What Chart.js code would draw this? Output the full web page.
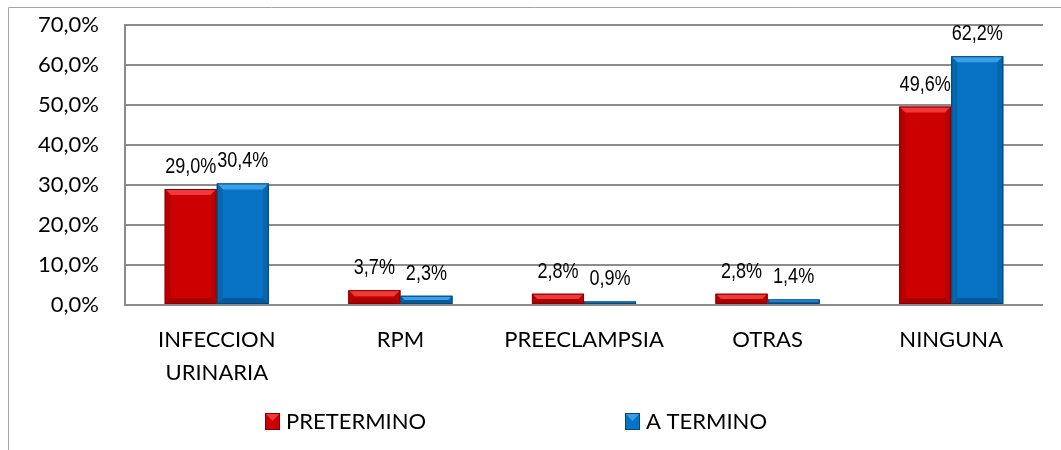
<!DOCTYPE html>
<html>
<head>
<meta charset="utf-8">
<script src="https://cdn.jsdelivr.net/npm/chart.js@4/dist/chart.umd.min.js"></script>
<style>
    html, body { margin: 0; padding: 0; background: #fff; }
    #wrap { position: relative; width: 1061px; height: 450px; }
</style>
</head>
<body>
<div id="wrap"><canvas id="myChart" width="1061" height="450"></canvas></div>
<script>
const categories = [['INFECCION', 'URINARIA'], 'RPM', 'PREECLAMPSIA', 'OTRAS', 'NINGUNA'];
const pretermino = [29.0, 3.7, 2.8, 2.8, 49.6];
const aTermino = [30.4, 2.3, 0.9, 1.4, 62.2];
const seriesNames = ['PRETERMINO', 'A TERMINO'];
const yMax = 70;
const yStep = 10;

const fmt = (v) => v.toFixed(1).replace('.', ',') + '%';
const tickFont = { family: 'Lato, "Open Sans", sans-serif', size: 22 };
// Arial Narrow look: Liberation Sans squeezed horizontally
const labelFont = '22px "Liberation Sans", Arial, sans-serif';
const narrow = 0.82;

// outer frame (left + top only, like the pasted Excel chart)
const framePlugin = {
    id: 'frame',
    beforeDraw(chart) {
        const ctx = chart.ctx;
        ctx.save();
        ctx.strokeStyle = '#a6a6a6';
        ctx.lineWidth = 1;
        ctx.beginPath();
        ctx.moveTo(8.5, chart.height);
        ctx.lineTo(8.5, 7.5);
        ctx.lineTo(chart.width, 7.5);
        ctx.stroke();
        ctx.restore();
    }
};

// bevel look on bars + value labels
const barDecor = {
    id: 'barDecor',
    afterDatasetsDraw(chart) {
        const ctx = chart.ctx;
        ctx.save();
        chart.data.datasets.forEach((ds, di) => {
            const meta = chart.getDatasetMeta(di);
            meta.data.forEach((bar, i) => {
                const { x, y, base, width } = bar.getProps(['x', 'y', 'base', 'width'], true);
                const l = x - width / 2, r = x + width / 2;
                const h = base - y;
                const b = Math.min(6, h / 2);
                // top
                ctx.fillStyle = ds.bevelLight;
                ctx.beginPath();
                ctx.moveTo(l, y); ctx.lineTo(r, y); ctx.lineTo(r - b, y + b); ctx.lineTo(l + b, y + b);
                ctx.closePath(); ctx.fill();
                // bottom
                ctx.fillStyle = ds.bevelDark;
                ctx.beginPath();
                ctx.moveTo(l, base); ctx.lineTo(r, base); ctx.lineTo(r - b, base - b); ctx.lineTo(l + b, base - b);
                ctx.closePath(); ctx.fill();
                // sides
                ctx.fillStyle = ds.bevelSide;
                ctx.beginPath();
                ctx.moveTo(l, y); ctx.lineTo(l + b, y + b); ctx.lineTo(l + b, base - b); ctx.lineTo(l, base);
                ctx.closePath(); ctx.fill();
                ctx.beginPath();
                ctx.moveTo(r, y); ctx.lineTo(r - b, y + b); ctx.lineTo(r - b, base - b); ctx.lineTo(r, base);
                ctx.closePath(); ctx.fill();
                ctx.strokeStyle = ds.bevelEdge;
                ctx.lineWidth = 1;
                ctx.strokeRect(l + 0.5, y + 0.5, width - 1, h - 1);

                // value label
                ctx.save();
                ctx.fillStyle = '#000';
                ctx.font = labelFont;
                ctx.textAlign = 'center';
                ctx.textBaseline = 'alphabetic';
                ctx.scale(narrow, 1);
                ctx.fillText(fmt(ds.data[i]), x / narrow, y - 16);
                ctx.restore();
            });
        });
        ctx.restore();
    }
};

// legend drawn wide apart like the original
const wideLegend = {
    id: 'wideLegend',
    afterDraw(chart) {
        const ctx = chart.ctx;
        const starts = [265, 625];
        const cy = 421;
        ctx.save();
        ctx.font = `${tickFont.size}px ${tickFont.family}`;
        ctx.textBaseline = 'middle';
        ctx.textAlign = 'left';
        chart.data.datasets.forEach((ds, di) => {
            const x0 = starts[di];
            ctx.fillStyle = ds.backgroundColor;
            ctx.fillRect(x0, cy - 8, 15, 17);
            ctx.fillStyle = ds.bevelLight;
            ctx.beginPath();
            ctx.moveTo(x0, cy - 8); ctx.lineTo(x0 + 15, cy - 8); ctx.lineTo(x0 + 7.5, cy);
            ctx.closePath(); ctx.fill();
            ctx.strokeStyle = ds.bevelEdge;
            ctx.strokeRect(x0 + 0.5, cy - 7.5, 14, 16);
            ctx.fillStyle = '#000';
            ctx.fillText(ds.label, x0 + 21, cy + 1);
        });
        ctx.restore();
    }
};

new Chart(document.getElementById('myChart'), {
    type: 'bar',
    data: {
        labels: categories,
        datasets: [{
            label: seriesNames[0],
            data: pretermino,
            backgroundColor: '#cc0000',
            bevelLight: '#f0393b',
            bevelDark: '#a80000',
            bevelSide: '#b70000',
            bevelEdge: '#8a0000'
        }, {
            label: seriesNames[1],
            data: aTermino,
            backgroundColor: '#0873c4',
            bevelLight: '#3a9fe6',
            bevelDark: '#055a9c',
            bevelSide: '#0666ae',
            bevelEdge: '#03477a'
        }]
    },
    options: {
        responsive: false,
        animation: false,
        layout: { autoPadding: false, padding: { top: 25, right: 18, bottom: 50, left: 0 } },
        datasets: {
            bar: { categoryPercentage: 0.567, barPercentage: 1 }
        },
        scales: {
            x: {
                grid: { display: false },
                border: { display: false },
                ticks: {
                    color: '#000',
                    font: { ...tickFont, lineHeight: 1.5 },
                    padding: 10,
                    maxRotation: 0,
                    autoSkip: false
                },
                afterFit: (scale) => { scale.height = 95; }
            },
            y: {
                min: 0,
                max: yMax,
                grid: { color: '#8c8c8c', lineWidth: 2, drawTicks: false },
                border: { color: '#8c8c8c', width: 2 },
                ticks: {
                    stepSize: yStep,
                    color: '#000',
                    font: tickFont,
                    padding: 26,
                    callback: (v) => fmt(v)
                },
                afterFit: (scale) => {
                    scale.width = 125;
                    scale.paddingTop = 0;
                    scale.paddingBottom = 0;
                }
            }
        },
        plugins: {
            legend: { display: false },
            tooltip: { enabled: false }
        }
    },
    plugins: [framePlugin, barDecor, wideLegend]
});
</script>
</body>
</html>
